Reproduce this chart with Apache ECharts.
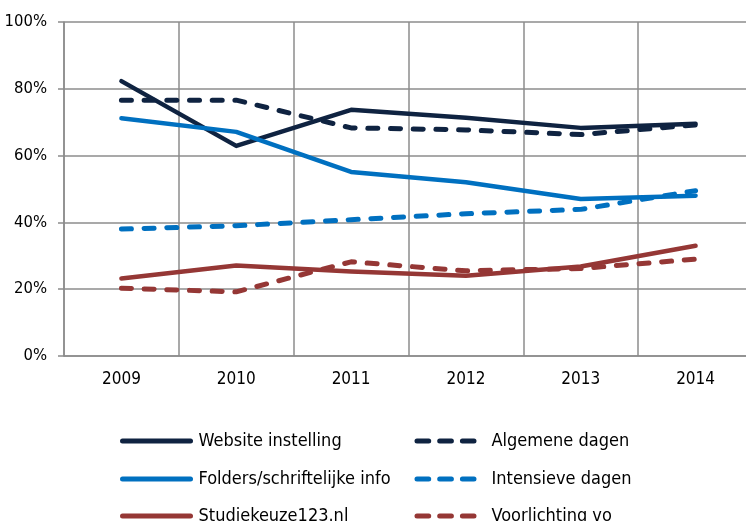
<!DOCTYPE html>
<html><head><meta charset="utf-8">
<script src="https://cdn.jsdelivr.net/npm/echarts@6/dist/echarts.min.js"></script>
<style>html,body{margin:0;padding:0;background:#fff}#c{width:746px;height:521px}</style>
</head><body><div id="c"></div>
<script>
const years = ['2009','2010','2011','2012','2013','2014'];
const websiteInstelling = [82.3, 62.9, 73.7, 71.3, 68.3, 69.5];
const algemeneDagen = [76.6, 76.6, 68.3, 67.7, 66.3, 69.2];
const folders = [71.2, 67.1, 55.1, 52.0, 47.0, 48.0];
const intensieveDagen = [38.0, 39.0, 40.8, 42.6, 43.9, 49.5];
const studiekeuze = [23.2, 27.1, 25.3, 24.0, 26.8, 33.0];
const voorlichtingVo = [20.3, 19.2, 28.2, 25.5, 26.2, 29.0];
const yTicks = [0, 20, 40, 60, 80, 100];
const solidNames = ['Website instelling', 'Folders/schriftelijke info', 'Studiekeuze123.nl'];
const dashedNames = ['Algemene dagen', 'Intensieve dagen', 'Voorlichting vo'];

const NAVY = '#0f2341', BLUE = '#0070c0', RED = '#953735';
const FONT = 'DejaVu Sans Condensed, DejaVu Sans, sans-serif';
function mk(name, data, color, dashed) {
  return {
    name, type: 'line', data, symbol: 'none', smooth: false,
    lineStyle: { color, width: dashed ? 5 : 4.5, type: dashed ? [10, 12.7] : 'solid', cap: 'round', join: 'round' },
    itemStyle: { color },
    z: dashed ? 3 : 2
  };
}
const rowTops = [432, 470, 507];
const legends = [];
solidNames.forEach((n, i) => legends.push({
  data: [n], left: 120, top: rowTops[i], padding: 0, itemWidth: 68, itemHeight: 14,
  itemStyle: { opacity: 0 },
  lineStyle: { width: 5, cap: 'round', type: 'solid' },
  textStyle: { fontFamily: FONT, fontSize: 18, color: '#000', lineHeight: 14, padding: [0, 0, 0, 3] }
}));
dashedNames.forEach((n, i) => legends.push({
  data: [n], left: 414.5, top: rowTops[i], padding: 0, itemWidth: 57, itemHeight: 14,
  itemStyle: { opacity: 0 },
  lineStyle: { width: 5, cap: 'round', type: [11.7, 11] },
  textStyle: { fontFamily: FONT, fontSize: 18, color: '#000', lineHeight: 14, padding: [0, 0, 0, 12.5] }
}));
const chart = echarts.init(document.getElementById('c'));
chart.setOption({
  animation: false,
  grid: { left: 64, top: 22, width: 689, bottom: 165, containLabel: false, outerBoundsMode: 'none' },
  xAxis: {
    type: 'category', data: years, boundaryGap: true,
    axisLine: { lineStyle: { color: '#8c8c8c', width: 1.5 } },
    axisTick: { show: false },
    splitLine: { show: true, lineStyle: { color: '#8c8c8c', width: 1.5 } },
    axisLabel: { color: '#000', fontFamily: FONT, fontSize: 17, margin: 15 }
  },
  yAxis: {
    type: 'value', min: 0, max: 100, interval: 20,
    axisLine: { show: true, lineStyle: { color: '#8c8c8c', width: 1.5 } },
    axisTick: { show: true, length: 6, lineStyle: { color: '#8c8c8c', width: 1.5 } },
    splitLine: { show: true, lineStyle: { color: '#8c8c8c', width: 1.5 } },
    axisLabel: { color: '#000', fontFamily: FONT, fontSize: 16.5, margin: 17,
      formatter: v => yTicks.includes(v) ? v + '%' : '' }
  },
  legend: legends,
  series: [
    mk('Website instelling', websiteInstelling, NAVY, false),
    mk('Algemene dagen', algemeneDagen, NAVY, true),
    mk('Folders/schriftelijke info', folders, BLUE, false),
    mk('Intensieve dagen', intensieveDagen, BLUE, true),
    mk('Studiekeuze123.nl', studiekeuze, RED, false),
    mk('Voorlichting vo', voorlichtingVo, RED, true)
  ]
});
</script></body></html>
